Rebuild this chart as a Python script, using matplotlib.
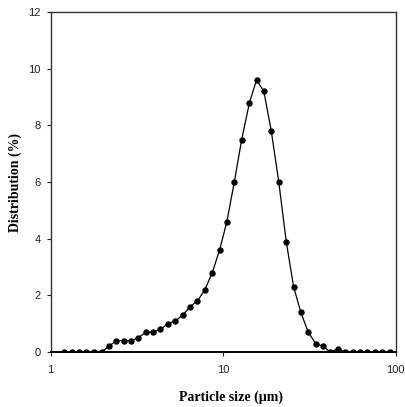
import matplotlib.pyplot as plt

# particle size bins (um)
size_um = [1.20, 1.32, 1.46, 1.61, 1.78, 1.97, 2.17, 2.40, 2.65, 2.92,
           3.22, 3.56, 3.93, 4.33, 4.78, 5.28, 5.82, 6.43, 7.09, 7.83,
           8.64, 9.53, 10.5, 11.6, 12.8, 14.2, 15.6, 17.2, 19.0, 21.0,
           23.2, 25.6, 28.2, 31.1, 34.4, 37.9, 41.8, 46.2, 51.0, 56.2,
           62.1, 68.5, 75.6, 83.4, 92.1]

# volume distribution (%)
dist_pct = [0.0, 0.0, 0.0, 0.0, 0.0, 0.0, 0.2, 0.4, 0.4, 0.4,
            0.5, 0.7, 0.7, 0.8, 1.0, 1.1, 1.3, 1.6, 1.8, 2.2,
            2.8, 3.6, 4.6, 6.0, 7.5, 8.8, 9.6, 9.2, 7.8, 6.0,
            3.9, 2.3, 1.4, 0.7, 0.3, 0.2, 0.0, 0.1, 0.0, 0.0,
            0.0, 0.0, 0.0, 0.0, 0.0]

yticks = [0, 2, 4, 6, 8, 10, 12]
xticks = [1, 10, 100]

fig = plt.figure(figsize=(4.06, 4.07), dpi=100)
ax = fig.add_axes([0.1249, 0.1351, 0.8497, 0.8354])

ax.plot(size_um, dist_pct, color="black", lw=0.9, marker="o", ms=3.6,
        mfc="black", mec="black")

ax.set_xscale("log")
ax.set_xlim(1, 100)
ax.set_ylim(0, 12)
ax.set_xticks(xticks)
ax.set_xticklabels([str(t) for t in xticks])
ax.xaxis.set_minor_locator(plt.NullLocator())
ax.set_yticks(yticks)
ax.set_yticklabels([str(t) for t in yticks])

for sp in ax.spines.values():
    sp.set_color("#333333")
    sp.set_linewidth(1.0)
ax.spines["bottom"].set_color("black")
ax.spines["bottom"].set_linewidth(1.4)

ax.tick_params(direction="out", length=3, width=0.8, labelsize=8,
               colors="#222222")
ax.tick_params(axis="x", pad=6)
ax.tick_params(axis="y", pad=4.3)
for lab in ax.get_xticklabels() + ax.get_yticklabels():
    lab.set_family(["Liberation Sans", "DejaVu Sans"])

ax.set_xlabel("Particle size (\u00b5m)", fontsize=10, fontweight="bold",
              family=["Liberation Serif", "DejaVu Serif"])
ax.set_ylabel("Distribution (%)", fontsize=10, fontweight="bold",
              family=["Liberation Serif", "DejaVu Serif"])
ax.xaxis.set_label_coords(0.523, -0.132)
ax.yaxis.set_label_coords(-0.102, 0.5)
ax.xaxis.label.set_va("center")
ax.yaxis.label.set_va("center")

fig.savefig("out.png", dpi=100)
